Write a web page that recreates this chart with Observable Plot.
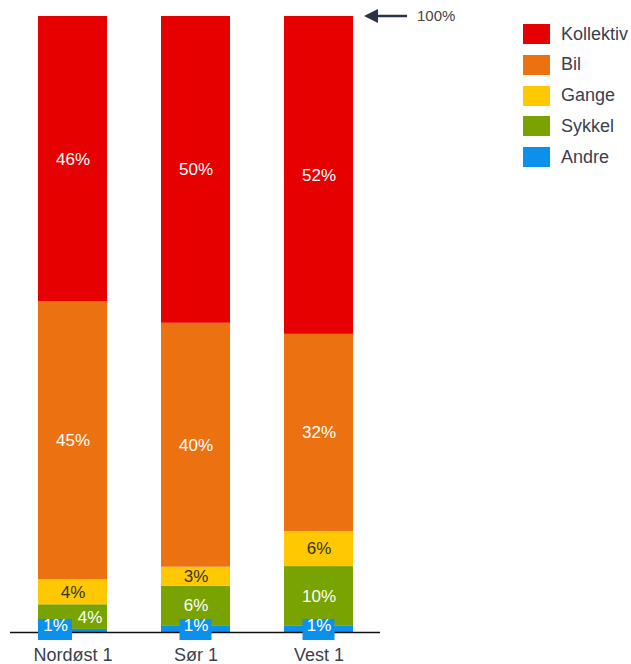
<!DOCTYPE html>
<html>
<head>
<meta charset="utf-8">
<script src="https://cdn.jsdelivr.net/npm/d3@7"></script>
<script src="https://cdn.jsdelivr.net/npm/@observablehq/plot@0.6"></script>
<style>
  body { margin: 0; background: #fff; }
  #wrap { position: relative; width: 631px; height: 664px; font-family: "Liberation Sans", Arial, sans-serif; }
  #legend { position: absolute; left: 523px; top: 24px; }
  .row { display: flex; align-items: center; height: 20px; margin-bottom: 10.75px; }
  .sw { width: 27px; height: 20px; margin-right: 11px; }
  .lab { font-size: 18px; color: #3a3f4f; }
</style>
</head>
<body>
<div id="wrap"></div>
<script>
const categories = ["Nordøst 1", "Sør 1", "Vest 1"];
const modes = ["Kollektiv", "Bil", "Gange", "Sykkel", "Andre"];
const colors = ["#e60000", "#ec7211", "#ffc800", "#78a300", "#0b91ec"];
const kollektiv = [46.3, 49.8, 51.6];
const bil = [45.1, 39.6, 32.0];
const gange = [4.1, 3.1, 5.7];
const sykkel = [4.0, 6.4, 9.7];
const andre = [0.5, 1.1, 1.0];
const topLabel = "100%";

const series = {Kollektiv: kollektiv, Bil: bil, Gange: gange, Sykkel: sykkel, Andre: andre};
const stackOrder = ["Andre", "Sykkel", "Gange", "Bil", "Kollektiv"];
const data = [];
categories.forEach((c, i) => {
  stackOrder.forEach(m => data.push({cat: c, mode: m, value: series[m][i]}));
});
const pct = d => Math.round(d.value) + "%";
const first = categories[0];

const stackOpts = extra => Plot.stackY({x: "cat", y: "value", z: "mode", order: stackOrder, ...extra});

const arrowMark = (index, scales, values, dimensions) => {
  const y = scales.y(100);
  const xr = dimensions.width - dimensions.marginRight;
  const g = d3.create("svg:g");
  g.append("line").attr("x1", xr - 4).attr("x2", xr + 27).attr("y1", y).attr("y2", y)
    .attr("stroke", "#2d3347").attr("stroke-width", 2.5);
  g.append("path").attr("d", `M${xr - 16},${y} L${xr - 2},${y - 7} L${xr - 2},${y + 7} Z`).attr("fill", "#2d3347");
  g.append("text").attr("x", xr + 37).attr("y", y).attr("dy", "0.35em")
    .attr("text-anchor", "start")
    .attr("font-size", 15).attr("fill", "#444").text(topLabel);
  return g.node();
};

const chart = Plot.plot({
  width: 631,
  height: 664,
  marginLeft: 10,
  marginRight: 251,
  marginTop: 16,
  marginBottom: 32,
  style: {fontFamily: '"Liberation Sans", Arial, sans-serif', background: "white"},
  x: {domain: categories, range: [24.65, 365.4], paddingInner: 0.441, paddingOuter: 0.1, label: null},
  y: {domain: [0, 100], axis: null},
  color: {domain: modes, range: colors},
  marks: [
    Plot.barY(data, stackOpts({fill: "mode"})),
    Plot.ruleY([0], {stroke: "#111", strokeWidth: 1.5}),
    Plot.barY(data, {filter: d => d.mode === "Andre" && d.cat !== first, x: "cat", y1: 0, y2: 0,
      insetTop: -13, insetBottom: -8, insetLeft: 18.5, insetRight: 18.5, fill: "#0b91ec"}),
    Plot.barY(data, {filter: d => d.mode === "Andre" && d.cat === first, x: "cat", y1: 0, y2: 0,
      insetTop: -13, insetBottom: -8, insetLeft: 0, insetRight: 35, fill: "#0b91ec"}),
    Plot.text(data, stackOpts({text: d => (d.mode === "Kollektiv" || d.mode === "Bil" || (d.mode === "Sykkel" && d.cat !== first)) ? pct(d) : "",
      fill: "white", fontSize: 17})),
    Plot.text(data, stackOpts({text: d => d.mode === "Sykkel" && d.cat === first ? pct(d) : "",
      fill: "white", fontSize: 17, dx: 17})),
    Plot.text(data, stackOpts({text: d => d.mode === "Gange" ? pct(d) : "",
      fill: "#333", fontSize: 17})),
    Plot.text(data, {filter: d => d.mode === "Andre" && d.cat !== first, x: "cat", frameAnchor: "bottom", dy: -2,
      text: pct, fill: "white", fontSize: 17}),
    Plot.text(data, {filter: d => d.mode === "Andre" && d.cat === first, x: "cat", frameAnchor: "bottom", dy: -2, dx: -17.5,
      text: pct, fill: "white", fontSize: 17}),
    Plot.axisX({tickSize: 0, tickPadding: 16, fontSize: 18, color: "#3a3f4f", label: null}),
    arrowMark
  ]
});

const wrap = document.getElementById("wrap");
wrap.appendChild(chart);
const legend = document.createElement("div");
legend.id = "legend";
modes.forEach((m, i) => {
  const row = document.createElement("div");
  row.className = "row";
  row.innerHTML = `<div class="sw" style="background:${colors[i]}"></div><div class="lab">${m}</div>`;
  legend.appendChild(row);
});
wrap.appendChild(legend);
</script>
</body>
</html>
